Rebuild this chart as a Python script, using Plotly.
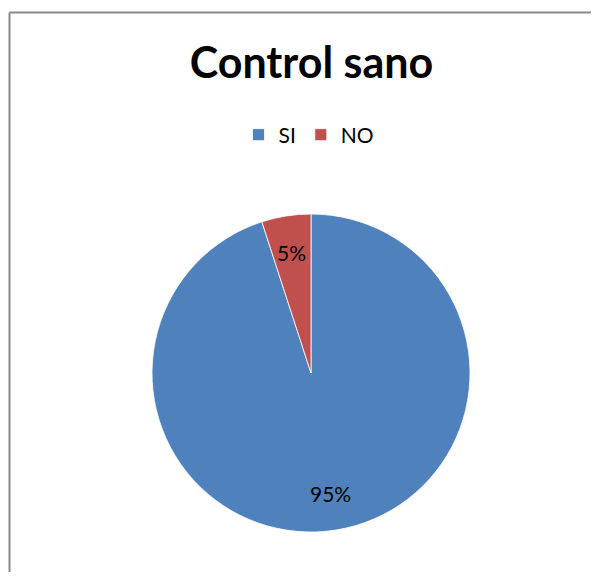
import math
import plotly.graph_objects as go

labels = ["SI", "NO"]
values = [95, 5]
colors = ["#4F81BD", "#C0504D"]

# page is rendered with an 8px body margin on every side
OFF = 8
W, H = 599 - 2 * OFF, 580 - 2 * OFF

def px(x):
    return (x - OFF) / W

def py(y):
    return 1 - (y - OFF) / H

# pie geometry (page pixels)
cx, cy, r = 311, 373, 159
FONT = "Lato, Open Sans, sans-serif"

fig = go.Figure(go.Pie(
    labels=labels,
    values=values,
    sort=False,
    direction="clockwise",
    rotation=0,
    marker=dict(colors=colors, line=dict(color="white", width=0.8)),
    textinfo="none",
    domain=dict(x=[px(cx - r), px(cx + r)], y=[py(cy + r), py(cy - r)]),
    showlegend=True,
    hoverinfo="label+percent",
))

# data labels placed along each slice's mid-angle
total = sum(values)
annotations = []
cum = 0
for v in values:
    mid = (cum + v / 2) / total * 2 * math.pi
    cum += v
    lx = cx + 0.77 * r * math.sin(mid)
    ly = cy - 0.77 * r * math.cos(mid)
    annotations.append(dict(
        x=px(lx), y=py(ly), xref="paper", yref="paper",
        text=f"{round(v / total * 100)}%", showarrow=False,
        xanchor="center", yanchor="middle",
        font=dict(family=FONT, size=21, color="black"),
    ))

fig.update_layout(
    width=W, height=H,
    margin=dict(l=0, r=0, t=0, b=0),
    paper_bgcolor="white",
    plot_bgcolor="white",
    title=dict(text="<b>Control sano</b>", x=px(311.5), xanchor="center", y=py(63), yanchor="middle",
               font=dict(family=FONT, size=43, color="black")),
    legend=dict(orientation="h", x=px(309), xanchor="center", y=py(135), yanchor="middle",
                font=dict(family=FONT, size=21, color="black"),
                itemwidth=30, traceorder="normal"),
    annotations=annotations,
    shapes=[
        dict(type="line", xref="paper", yref="paper",
             x0=px(9.5), x1=px(9.5), y0=0, y1=py(12.5),
             line=dict(color="#898989", width=2)),
        dict(type="line", xref="paper", yref="paper",
             x0=px(9.5), x1=1, y0=py(12.5), y1=py(12.5),
             line=dict(color="#898989", width=2)),
    ],
)

fig.write_html("out.html")
